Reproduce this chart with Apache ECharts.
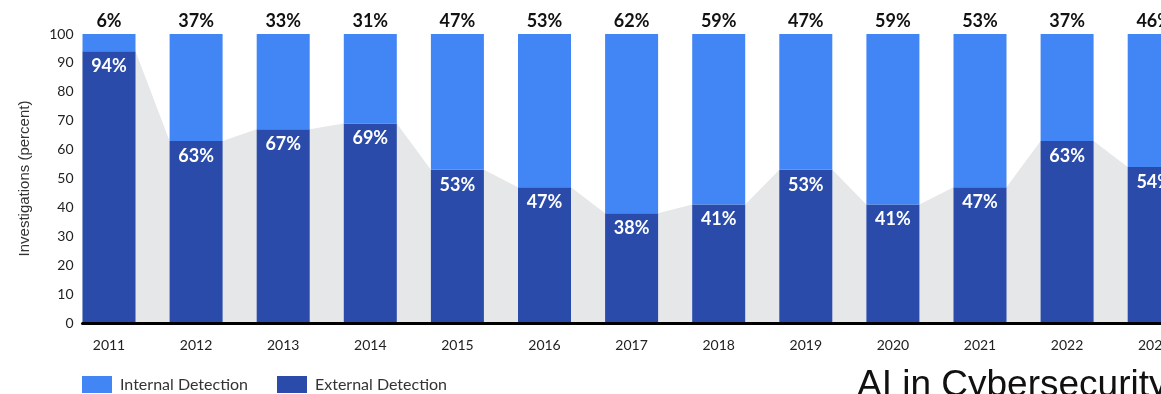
<!DOCTYPE html>
<html>
<head>
<meta charset="utf-8">
<script src="https://cdn.jsdelivr.net/npm/echarts@6/dist/echarts.min.js"></script>
<style>
  html, body { margin: 0; padding: 0; background: #fff; }
  #chart { width: 1161px; height: 394px; }
</style>
</head>
<body>
<div id="chart"></div>
<script>
// data
var years = ['2011', '2012', '2013', '2014', '2015', '2016', '2017', '2018', '2019', '2020', '2021', '2022', '2023'];
var internalDetection = [6, 37, 33, 31, 47, 53, 62, 59, 47, 59, 53, 37, 46];
var externalDetection = [94, 63, 67, 69, 53, 47, 38, 41, 53, 41, 47, 63, 54];
var yTicks = [0, 10, 20, 30, 40, 50, 60, 70, 80, 90, 100];

// layout (px)
var STEP = 87.1;       // width of one category
var BAR_W = 53;        // bar width
var FIRST_CENTER = 109;
var HALF = BAR_W / 2 / STEP;   // half bar in category units

// grey band behind bars: joins the top corners of the external bars
var bandData = [];
externalDetection.forEach(function (v, i) {
    bandData.push([i - HALF, v]);
    bandData.push([i + HALF, v]);
});

var font = 'Lato, "Open Sans", sans-serif';
var gridTop = 34, gridBottom = 71;
var left0 = FIRST_CENTER - STEP / 2;
var width0 = STEP * years.length;
var left1 = FIRST_CENTER - BAR_W / 2;
var width1 = width0 - (left1 - left0);

var chart = echarts.init(document.getElementById('chart'));

var option = {
    animation: false,
    textStyle: { fontFamily: font },
    grid: [
        { left: left0, top: gridTop, bottom: gridBottom, width: width0, outerBoundsMode: 'none', containLabel: false },
        { left: left1, top: gridTop, bottom: gridBottom, width: width1, outerBoundsMode: 'none', containLabel: false }
    ],
    xAxis: [
        {
            type: 'category',
            gridIndex: 0,
            data: years,
            axisLine: { show: false },
            axisTick: { show: false },
            axisLabel: { color: '#222', fontSize: 14, margin: 15, fontFamily: font }
        },
        {
            type: 'value',
            gridIndex: 1,
            min: -HALF,
            max: years.length - 0.5,
            z: 10,
            axisLine: { show: true, onZero: false, lineStyle: { color: '#000', width: 3 } },
            axisTick: { show: false },
            axisLabel: { show: false },
            splitLine: { show: false }
        }
    ],
    yAxis: [
        {
            type: 'value',
            gridIndex: 0,
            min: 0, max: 100, interval: 10,
            show: false
        },
        {
            type: 'value',
            gridIndex: 1,
            min: yTicks[0], max: yTicks[yTicks.length - 1], interval: 10,
            name: 'Investigations (percent)',
            nameLocation: 'middle',
            nameGap: 50,
            nameTextStyle: { color: '#333', fontSize: 15, fontFamily: 'Liberation Sans, Arial, sans-serif' },
            axisLine: { show: false },
            axisTick: { show: false },
            splitLine: { show: false },
            axisLabel: { color: '#222', fontSize: 14, margin: 9, fontFamily: font }
        }
    ],
    legend: {
        left: 82,
        top: 376,
        padding: 0,
        itemWidth: 30,
        itemHeight: 17,
        itemGap: 29,
        icon: 'rect',
        data: ['Internal Detection', 'External Detection'],
        textStyle: { color: '#333', fontSize: 16, fontFamily: font, padding: [0, 0, 0, 3] }
    },
    graphic: [
        {
            type: 'text',
            left: 857,
            top: 367,
            style: {
                text: 'AI in Cybersecurity',
                fill: '#111',
                font: '37px "Liberation Sans", Arial, sans-serif'
            }
        }
    ],
    series: [
        {
            name: 'band',
            type: 'line',
            xAxisIndex: 1,
            yAxisIndex: 1,
            data: bandData,
            symbol: 'none',
            silent: true,
            z: 1,
            lineStyle: { width: 0 },
            areaStyle: { color: '#e5e7e8', opacity: 1 }
        },
        {
            name: 'External Detection',
            type: 'bar',
            stack: 'total',
            xAxisIndex: 0,
            yAxisIndex: 0,
            barWidth: BAR_W,
            z: 3,
            itemStyle: { color: '#2a4ba9' },
            label: {
                show: true,
                position: 'insideTop',
                distance: 6,
                color: '#fff',
                fontSize: 18,
                fontWeight: 'bold',
                fontFamily: font,
                formatter: '{c}%'
            },
            data: externalDetection
        },
        {
            name: 'Internal Detection',
            type: 'bar',
            stack: 'total',
            xAxisIndex: 0,
            yAxisIndex: 0,
            barWidth: BAR_W,
            z: 3,
            itemStyle: { color: '#4285f4' },
            label: {
                show: true,
                position: 'top',
                distance: 4,
                color: '#111',
                fontSize: 18,
                fontWeight: 'bold',
                fontFamily: font,
                formatter: '{c}%'
            },
            data: internalDetection
        }
    ]
};

chart.setOption(option);
window.onresize = function () {
    chart.resize();
};
</script>
</body>
</html>
